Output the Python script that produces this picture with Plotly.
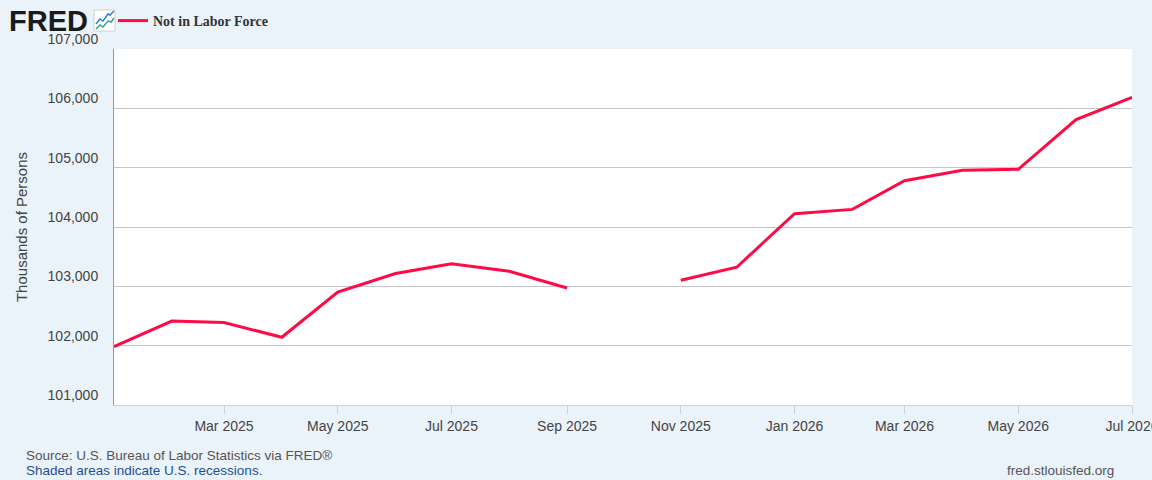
import plotly.graph_objects as go

# monthly values, thousands of persons (Oct 2025 missing)
months = ["2025-01-01", "2025-02-01", "2025-03-01", "2025-04-01", "2025-05-01",
          "2025-06-01", "2025-07-01", "2025-08-01", "2025-09-01", "2025-10-01",
          "2025-11-01", "2025-12-01", "2026-01-01", "2026-02-01", "2026-03-01",
          "2026-04-01", "2026-05-01", "2026-06-01", "2026-07-01"]
not_in_lf = [101983, 102414, 102390, 102142, 102905, 103215, 103380, 103254,
             102973, None, 103102, 103322, 104225, 104297, 104780, 104956,
             104973, 105811, 106186]
y_ticks = [101000, 102000, 103000, 104000, 105000, 106000, 107000]
x_ticks = ["2025-03-01", "2025-05-01", "2025-07-01", "2025-09-01", "2025-11-01",
           "2026-01-01", "2026-03-01", "2026-05-01", "2026-07-01"]

W, H = 1152, 480
L, R, T, B = 114, 20, 49, 75
pw, ph = W - L - R, H - T - B


def px(x):
    return (x - L) / pw


def py(y):
    return (H - B - y) / ph


bg = '#eaf2fa'
red = '#ff0a45'

fig = go.Figure()
fig.add_trace(go.Scatter(
    x=months, y=not_in_lf,
    mode='lines',
    name='Not in Labor Force',
    line=dict(color=red, width=3),
    connectgaps=False,
    hoverinfo='skip'
))

fig.update_layout(
    width=W, height=H,
    margin=dict(l=L, r=R, t=T, b=B, autoexpand=False),
    paper_bgcolor=bg, plot_bgcolor='white',
    font=dict(family='Liberation Sans, Arial', size=14, color='#444'),
    showlegend=True,
    legend=dict(x=px(113), y=py(5), xanchor='left', yanchor='top',
                bgcolor='rgba(0,0,0,0)', borderwidth=0,
                font=dict(family='Liberation Serif', size=14, color='#333', weight='bold'),
                itemwidth=30),
)

fig.update_xaxes(
    type='date', range=[months[0], months[-1]],
    tickvals=x_ticks, tickformat='%b %Y',
    ticks='outside', ticklen=8, tickcolor='#c8d2de', tickwidth=1,
    showline=True, linecolor='#c8d2de', linewidth=1,
    showgrid=False, zeroline=False, automargin=False,
    ticklabeloverflow='allow',
    tickfont=dict(size=14, color='#444'),
)

fig.update_yaxes(
    range=[y_ticks[0], y_ticks[-1]],
    tickvals=y_ticks, tickformat=',d',
    ticks='', ticklabelposition='outside top', ticklabelstandoff=12,
    showline=True, linecolor='#999999', linewidth=1,
    showgrid=True, gridcolor='#c4c4c4', gridwidth=1,
    zeroline=False, automargin=False,
    tickfont=dict(size=14, color='#444'),
    title=dict(text='Thousands of Persons', font=dict(size=15, color='#444'), standoff=16),
)

# FRED logo
fig.add_annotation(x=px(7), y=py(21), xref='paper', yref='paper',
                   xanchor='left', yanchor='middle', showarrow=False,
                   text='<b>FRED</b>',
                   font=dict(family='Liberation Sans, Arial', size=29, color='#1a1a1a'))
fig.add_shape(type='rect', xref='paper', yref='paper',
              x0=px(94), x1=px(115), y0=py(31), y1=py(10),
              fillcolor='white', line=dict(color='#d0d0d0', width=1))
fig.add_shape(type='path', xref='paper', yref='paper',
              path='M {} {} L {} {} L {} {} L {} {} L {} {} L {} {}'.format(
                  px(96), py(24), px(100), py(19), px(103), py(21),
                  px(108), py(14), px(110), py(15), px(114), py(11)),
              line=dict(color='#2f7bd8', width=1.5))
fig.add_shape(type='path', xref='paper', yref='paper',
              path='M {} {} L {} {} L {} {} L {} {} L {} {} L {} {}'.format(
                  px(96), py(29), px(100), py(25), px(103), py(27),
                  px(108), py(21), px(111), py(22), px(114), py(18)),
              line=dict(color='#2aa88a', width=1.5))

# footer
fig.add_annotation(x=px(24), y=py(455), xref='paper', yref='paper',
                   xanchor='left', yanchor='middle', showarrow=False,
                   text='Source: U.S. Bureau of Labor Statistics via FRED®',
                   font=dict(size=13.5, color='#555'))
fig.add_annotation(x=px(24), y=py(470), xref='paper', yref='paper',
                   xanchor='left', yanchor='middle', showarrow=False,
                   text='Shaded areas indicate U.S. recessions.',
                   font=dict(size=13.5, color='#1f4f91'))
fig.add_annotation(x=px(1116), y=py(470), xref='paper', yref='paper',
                   xanchor='right', yanchor='middle', showarrow=False,
                   text='fred.stlouisfed.org',
                   font=dict(size=13.5, color='#555'))

fig.write_html("out.html", config={'displayModeBar': False},
               post_script="document.body.style.margin='0';")
